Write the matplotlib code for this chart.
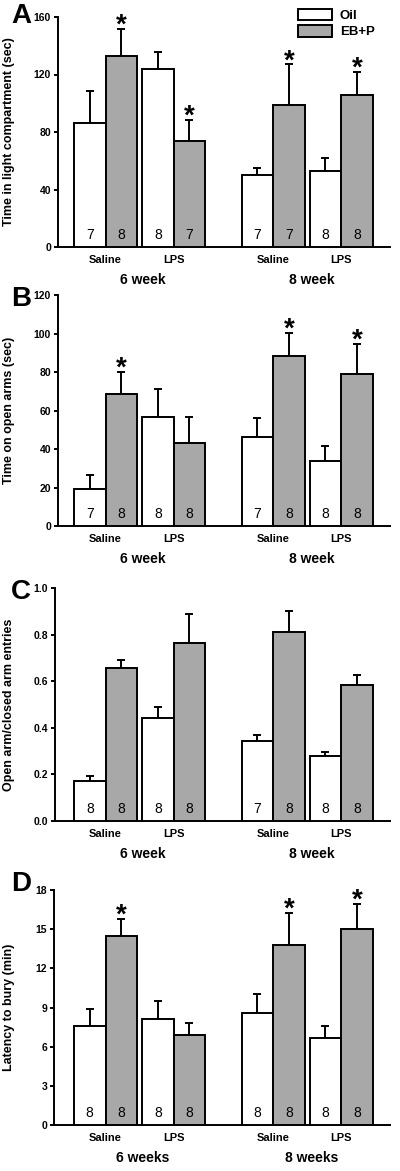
import numpy as np
import matplotlib
matplotlib.use("Agg")
import matplotlib.pyplot as plt
from matplotlib.patches import Patch

# ----------------------------- Data -----------------------------
treatments = ["Saline", "LPS", "Saline", "LPS"]
groups_a = ["6 week", "8 week"]
groups_d = ["6 weeks", "8 weeks"]
series_names = ["Oil", "EB+P"]

# A: time in light compartment (sec)
a_oil = [86, 124, 50, 53]
a_oil_err = [22.5, 11.5, 5, 9]
a_ebp = [133, 74, 98.5, 105.5]
a_ebp_err = [18.5, 14.5, 28.5, 16]
a_n_oil = [7, 8, 7, 8]
a_n_ebp = [8, 7, 7, 8]
a_star = [1, 1, 1, 1]

# B: time on open arms (sec)
b_oil = [19, 56.5, 46, 34]
b_oil_err = [7.5, 14.5, 10.3, 7.5]
b_ebp = [68.8, 43.3, 88.1, 78.8]
b_ebp_err = [11, 13.3, 12.3, 16]
b_n_oil = [7, 8, 7, 8]
b_n_ebp = [8, 8, 8, 8]
b_star = [1, 0, 1, 1]

# C: open arm / closed arm entries
c_oil = [0.172, 0.441, 0.342, 0.279]
c_oil_err = [0.021, 0.049, 0.029, 0.016]
c_ebp = [0.656, 0.765, 0.812, 0.582]
c_ebp_err = [0.037, 0.125, 0.089, 0.043]
c_n_oil = [8, 8, 7, 8]
c_n_ebp = [8, 8, 8, 8]
c_star = [0, 0, 0, 0]

# D: latency to bury (min)
d_oil = [7.56, 8.14, 8.58, 6.69]
d_oil_err = [1.35, 1.36, 1.45, 0.87]
d_ebp = [14.45, 6.92, 13.76, 15.04]
d_ebp_err = [1.33, 0.92, 2.5, 1.89]
d_n_oil = [8, 8, 8, 8]
d_n_ebp = [8, 8, 8, 8]
d_star = [1, 0, 1, 1]

# ----------------------------- Layout -----------------------------
W, H = 400, 1171
GRAY = "#a8a8a8"
LW = 1.4
FONT = "Liberation Sans"
plt.rcParams.update({"font.family": FONT})

UNIT = 31.5      # px per data unit along x
BAR0 = 74        # px of left edge of first bar

# bar centers (data units)
oil_x = np.array([1.0, 3.16, 6.32, 8.48])
ebp_x = oil_x + 1.0

panels = [
    dict(letter="A", let_y=16, top=17, bot=247, left=58, ylim=(0, 160),
         ticks=np.arange(0, 161, 40), fmt="{:.0f}",
         ylabel="Time in light compartment (sec)", groups=groups_a,
         oil=a_oil, oil_err=a_oil_err, ebp=a_ebp, ebp_err=a_ebp_err,
         n_oil=a_n_oil, n_ebp=a_n_ebp, star=a_star),
    dict(letter="B", let_y=299, top=295, bot=526, left=58, ylim=(0, 120),
         ticks=np.arange(0, 121, 20), fmt="{:.0f}",
         ylabel="Time on open arms (sec)", groups=groups_a,
         oil=b_oil, oil_err=b_oil_err, ebp=b_ebp, ebp_err=b_ebp_err,
         n_oil=b_n_oil, n_ebp=b_n_ebp, star=b_star),
    dict(letter="C", let_y=592, top=588, bot=821, left=55, ylim=(0, 1.0),
         ticks=np.arange(0, 1.01, 0.2), fmt="{:.1f}",
         ylabel="Open arm/closed arm entries", groups=groups_a,
         oil=c_oil, oil_err=c_oil_err, ebp=c_ebp, ebp_err=c_ebp_err,
         n_oil=c_n_oil, n_ebp=c_n_ebp, star=c_star),
    dict(letter="D", let_y=884, top=890, bot=1125, left=54, ylim=(0, 18),
         ticks=np.arange(0, 19, 3), fmt="{:.0f}",
         ylabel="Latency to bury (min)", groups=groups_d,
         oil=d_oil, oil_err=d_oil_err, ebp=d_ebp, ebp_err=d_ebp_err,
         n_oil=d_n_oil, n_ebp=d_n_ebp, star=d_star),
]

RIGHT = 390

fig = plt.figure(figsize=(W / 100, H / 100), dpi=100)

for i, p in enumerate(panels):
    ax = fig.add_axes([p["left"] / W, 1 - p["bot"] / H,
                       (RIGHT - p["left"]) / W, (p["bot"] - p["top"]) / H])
    ax.set_xlim((p["left"] - BAR0) / UNIT + 0.5, (RIGHT - BAR0) / UNIT + 0.5)
    ax.set_ylim(*p["ylim"])

    ax.bar(oil_x, p["oil"], width=1.0, color="white", edgecolor="black", linewidth=LW, zorder=3)
    ax.bar(ebp_x, p["ebp"], width=1.0, color=GRAY, edgecolor="black", linewidth=LW, zorder=3)
    for xs, ys, es in [(oil_x, p["oil"], p["oil_err"]), (ebp_x, p["ebp"], p["ebp_err"])]:
        ax.errorbar(xs, ys, yerr=[np.zeros(len(ys)), es], fmt="none", ecolor="black",
                    elinewidth=LW, capsize=3, capthick=LW, zorder=2)

    # n labels
    for xs, ns in [(oil_x, p["n_oil"]), (ebp_x, p["n_ebp"])]:
        for x, n in zip(xs, ns):
            ax.annotate(str(n), (x, 0), xytext=(0, 3.5), textcoords="offset points",
                        ha="center", va="bottom", fontsize=10, zorder=4)

    # significance stars
    for x, y, e, s in zip(ebp_x, p["ebp"], p["ebp_err"], p["star"]):
        if s:
            ax.annotate("*", (x, y + e), xytext=(0, -7), textcoords="offset points",
                        ha="center", va="bottom", fontsize=20, fontweight="bold")

    ax.spines["top"].set_visible(False)
    ax.spines["right"].set_visible(False)
    ax.spines["left"].set_linewidth(LW)
    ax.spines["bottom"].set_linewidth(LW)
    ax.set_xticks([])
    ax.set_yticks(p["ticks"])
    ax.set_yticklabels([p["fmt"].format(t) for t in p["ticks"]], fontsize=7.5, fontweight="bold")
    ax.tick_params(axis="y", direction="out", length=3, width=LW, pad=2)
    ax.set_ylabel(p["ylabel"], fontsize=9, fontweight="bold", labelpad=4)
    ax.yaxis.set_label_coords((15 - p["left"]) / (RIGHT - p["left"]), 0.5)

    # category and group labels
    pair_c = (oil_x + ebp_x) / 2
    for x, t in zip(pair_c, treatments):
        ax.annotate(t, (x, 0), xytext=(0, -6), textcoords="offset points",
                    ha="center", va="top", fontsize=8, fontweight="bold",
                    annotation_clip=False)
    grp_c = [(pair_c[0] + pair_c[1]) / 2 + 0.1, (pair_c[2] + pair_c[3]) / 2 + 0.15]
    for x, t in zip(grp_c, p["groups"]):
        ax.annotate(t, (x, 0), xytext=(0, -19), textcoords="offset points",
                    ha="center", va="top", fontsize=10, fontweight="bold",
                    annotation_clip=False)

    fig.text(11 / W, 1 - p["let_y"] / H, p["letter"], fontsize=20, fontweight="bold",
             ha="left", va="center")

    if i == 0:
        handles = [Patch(facecolor="white", edgecolor="black", linewidth=LW),
                   Patch(facecolor=GRAY, edgecolor="black", linewidth=LW)]
        fig.legend(handles, series_names, loc="upper left",
                   bbox_to_anchor=(295 / W, 1 - 6 / H), frameon=False,
                   handlelength=2.6, handleheight=1.0, handletextpad=0.6,
                   labelspacing=0.2, borderaxespad=0, borderpad=0.2,
                   prop={"family": FONT, "weight": "bold", "size": 9.5})

fig.savefig("out.png", dpi=100)
